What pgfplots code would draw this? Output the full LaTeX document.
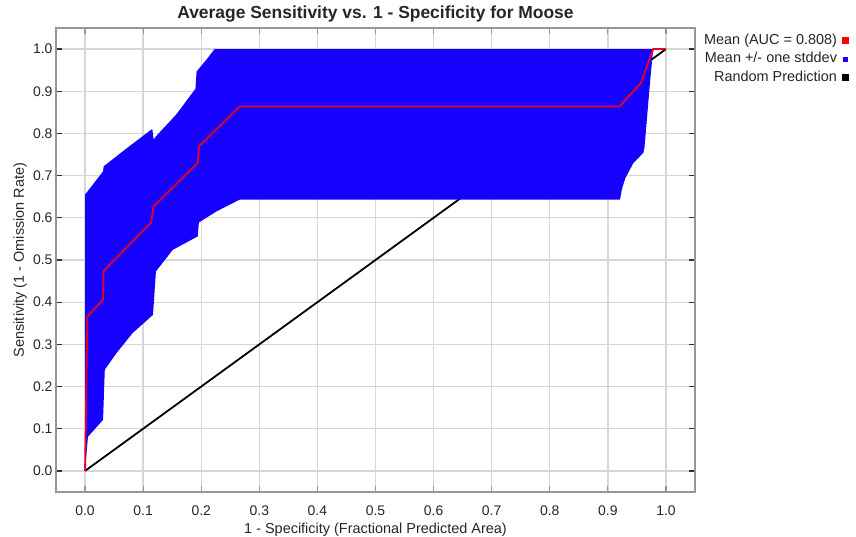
\documentclass[border=0pt]{standalone}
\usepackage{fontspec}
\setmainfont{Liberation Sans}
\usepackage{pgfplots}
\pgfplotsset{compat=1.18}

\definecolor{meanred}{RGB}{232,0,36}
\definecolor{bandblue}{RGB}{22,0,255}
\definecolor{gridgray}{RGB}{214,214,214}
\definecolor{framegray}{RGB}{150,150,150}

\begin{document}
\begin{tikzpicture}
\useasboundingbox (0,0) rectangle (856bp,537bp);
\begin{axis}[
  at={(56bp,45bp)}, anchor=south west,
  scale only axis, width=639bp, height=464bp,
  xmin=-0.05, xmax=1.05, ymin=-0.05, ymax=1.05,
  xtick={0,0.1,0.2,0.3,0.4,0.5,0.6,0.7,0.8,0.9,1},
  ytick={0,0.1,0.2,0.3,0.4,0.5,0.6,0.7,0.8,0.9,1},
  xticklabels={0.0,0.1,0.2,0.3,0.4,0.5,0.6,0.7,0.8,0.9,1.0},
  yticklabels={0.0,0.1,0.2,0.3,0.4,0.5,0.6,0.7,0.8,0.9,1.0},
  grid=major,
  major grid style={gridgray, line width=1.3bp},
  axis line style={framegray, line width=1.6bp},
  tick align=inside, tick pos=both, major tick length=6bp,
  xtick style={framegray, line width=1.2bp},
  ytick style={black!80, line width=1.2bp},
  ticklabel style={font=\fontsize{14}{16}\selectfont, text=black!85},
  xticklabel style={yshift=-10bp},
  every axis title shift=0pt,
  title={Average Sensitivity vs. 1 - Specificity for Moose},
  title style={font=\bfseries\fontsize{17.5}{20}\selectfont, text=black!85,
    at={(axis description cs:0.5,1.030)}, anchor=center},
  xlabel={1 - Specificity (Fractional Predicted Area)},
  xlabel style={font=\fontsize{14.5}{16}\selectfont, text=black!85,
    at={(axis description cs:0.5,-0.0819)}, anchor=center},
  ylabel={Sensitivity (1 - Omission Rate)},
  ylabel style={font=\fontsize{14.5}{16}\selectfont, text=black!85,
    at={(axis description cs:-0.0560,0.5)}, anchor=center},
  reverse legend,
  legend plot pos=right,
  legend cell align=right,
  legend style={draw=none, fill=none, at={(1.2410,0.9914)}, anchor=north east,
    inner sep=0pt, row sep=1.5bp, column sep=3bp,
    font=\fontsize{14.5}{16}\selectfont, text=black!85,
    nodes={inner sep=2bp, text height=10bp, text depth=3bp}},
]

% random prediction diagonal
\addplot[black, line width=1.8bp,
  legend image code/.code={\fill[black] (0bp,-2.5bp) rectangle (5bp,2.5bp);}]
  coordinates {(0,0) (1,1)};
\addlegendentry{Random Prediction}

% mean +/- one standard deviation band (upper edge, then lower edge back)
\addplot[fill=bandblue, draw=none,
  legend image code/.code={\fill[bandblue] (0bp,-2.5bp) rectangle (5bp,2.5bp);}]
  coordinates {
  (0,0) (0.000,0.655) (0.031,0.710) (0.032,0.722) (0.070,0.763)
  (0.114,0.809) (0.116,0.809) (0.118,0.786) (0.122,0.793) (0.157,0.845)
  (0.189,0.904) (0.190,0.905) (0.192,0.947) (0.209,0.975) (0.223,1.0)
  (0.978,1.0)
  (0.973,0.928) (0.963,0.766) (0.961,0.754) (0.944,0.730) (0.930,0.694)
  (0.924,0.667) (0.921,0.643)
  (0.266,0.643) (0.226,0.615) (0.196,0.589) (0.194,0.556) (0.151,0.524)
  (0.122,0.473) (0.117,0.370) (0.082,0.327) (0.054,0.279) (0.034,0.240)
  (0.031,0.121) (0.005,0.081) (0,0)
  } -- cycle;
\addlegendentry{Mean +/- one stddev}

% mean curve
\addplot[meanred, line width=1.8bp,
  legend image code/.code={\fill[red] (0bp,-2.5bp) rectangle (5bp,2.5bp);}]
  coordinates {
  (0,0) (0.004,0.366) (0.031,0.406) (0.032,0.474) (0.114,0.589)
  (0.118,0.627) (0.194,0.730) (0.196,0.769) (0.266,0.864) (0.920,0.864)
  (0.957,0.920) (0.978,1.0) (1.0,1.0)
  };
\addlegendentry{Mean (AUC = 0.808)}

\end{axis}
\end{tikzpicture}
\end{document}
